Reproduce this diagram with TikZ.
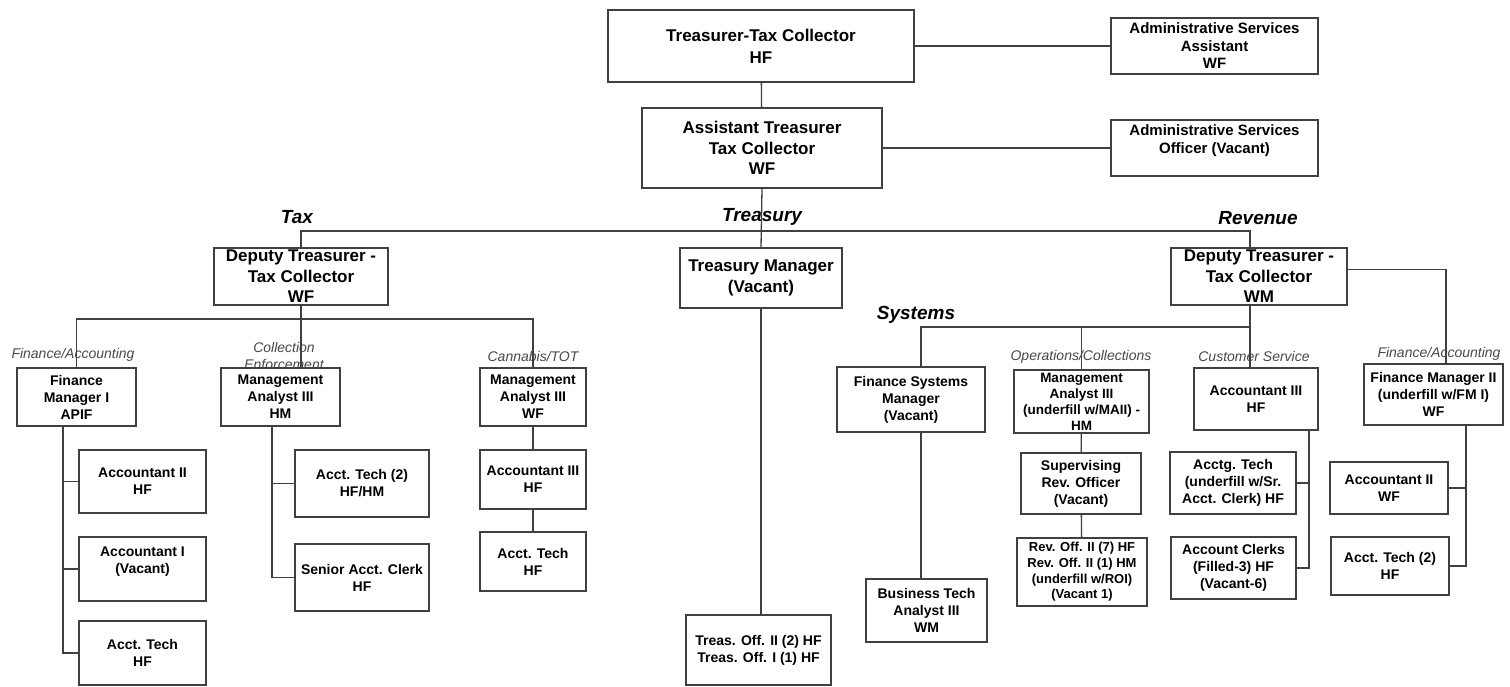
\documentclass[tikz,border=0pt]{standalone}
\usepackage{fontspec}
\setmainfont{Liberation Sans}
\tikzset{
	box/.style={draw=black!75, line width=1.3pt, fill=white, align=center, inner sep=0pt, font=\bfseries\fontsize{14}{17}\selectfont},
	bigbox/.style={box, font=\bfseries\fontsize{17}{20.5}\selectfont},
	adminbox/.style={box, font=\bfseries\fontsize{15}{17.5}\selectfont},
	dept/.style={font=\bfseries\itshape\fontsize{19}{22}\selectfont},
	unit/.style={text=black!72, font=\itshape\fontsize{14}{16.5}\selectfont},
	link/.style={draw=black!75, line width=1.3pt},
}
\begin{document}
\begin{tikzpicture}[x=1pt,y=-1pt]
	\useasboundingbox (0,0) rectangle (1510,686);

	% top
	\node[bigbox, minimum width=306pt, minimum height=72pt, font=\bfseries\fontsize{17}{22}\selectfont] (ttc) at (761,46) {Treasurer-Tax Collector\\HF};
	\node[adminbox, minimum width=207pt, minimum height=56pt] (asa) at (1214.5,46) {Administrative Services\\Assistant\\WF};
	\node[bigbox, minimum width=240pt, minimum height=80pt] (atc) at (762,148) {Assistant Treasurer\\Tax Collector\\WF};
	\node[adminbox, minimum width=207pt, minimum height=56pt] (aso) at (1214.5,148) {Administrative Services\\Officer (Vacant)\\~};

	\node[dept] at (297,217) {Tax};
	\node[dept] at (762,217) {Treasury};
	\node[dept] at (1258,218) {Revenue};
	\node[dept] at (916,315) {Systems};

	\node[bigbox, minimum width=174pt, minimum height=57pt] (dtax) at (301,276.5) {Deputy Treasurer -\\Tax Collector\\WF};
	\node[bigbox, minimum width=162pt, minimum height=60pt] (tman) at (761,278) {Treasury Manager\\(Vacant)};
	\node[bigbox, minimum width=176pt, minimum height=57pt] (drev) at (1259,276.5) {Deputy Treasurer -\\Tax Collector\\WM};

	% tax
	\node[unit] at (73,355) {Finance/Accounting};
	\node[unit, align=center] at (284,356) {Collection\\Enforcement};
	\node[unit] at (533,356) {Cannabis/TOT};

	\node[box, minimum width=119pt, minimum height=58pt] (fm1) at (76.5,397) {Finance\\Manager I\\APIF};
	\node[box, minimum width=119pt, minimum height=58pt] (mahm) at (280.5,397) {Management\\Analyst III\\HM};
	\node[box, minimum width=106pt, minimum height=58pt] (mawf) at (533,397) {Management\\Analyst III\\WF};

	\node[box, minimum width=127pt, minimum height=63pt] (acc2t) at (142.5,481.5) {Accountant II\\HF};
	\node[box, minimum width=127pt, minimum height=64pt] (acc1t) at (142.5,569) {Accountant I\\(Vacant)\\~};
	\node[box, minimum width=127pt, minimum height=64pt] (techt) at (142.5,653) {Acct. Tech\\HF};

	\node[box, minimum width=134pt, minimum height=67pt] (tech2t) at (362,483.5) {Acct. Tech (2)\\HF/HM};
	\node[box, minimum width=134pt, minimum height=67pt] (sclerk) at (362,577.5) {Senior Acct. Clerk\\HF};

	\node[box, minimum width=106pt, minimum height=59pt] (acc3t) at (533,479.5) {Accountant III\\HF};
	\node[box, minimum width=106pt, minimum height=59pt] (techc) at (533,561.5) {Acct. Tech\\HF};

	% treasury
	\node[box, minimum width=145pt, minimum height=70pt] (toff) at (758.5,650) {Treas. Off. II (2) HF\\Treas. Off. I (1) HF};

	% revenue
	\node[unit] at (1081,357) {Operations/Collections};
	\node[unit] at (1254,356) {Customer Service};
	\node[unit] at (1439,354) {Finance/Accounting};

	\node[box, minimum width=148pt, minimum height=65pt] (fsm) at (911,399.5) {Finance Systems\\Manager\\(Vacant)};
	\node[box, minimum width=135pt, minimum height=63pt, font=\bfseries\fontsize{13.5}{16}\selectfont] (mauf) at (1081.5,401.5) {Management\\Analyst III\\(underfill w/MAII) -\\HM};
	\node[box, minimum width=124pt, minimum height=62pt] (acc3r) at (1256,399) {Accountant III\\HF};
	\node[box, minimum width=139pt, minimum height=61pt] (fm2) at (1433.5,394.5) {Finance Manager II\\(underfill w/FM I)\\WF};

	\node[box, minimum width=121pt, minimum height=63pt] (bta) at (926.5,610.5) {Business Tech\\Analyst III\\WM};
	\node[box, minimum width=120pt, minimum height=61pt] (sro) at (1081,483.5) {Supervising\\Rev. Officer\\(Vacant)};
	\node[box, minimum width=130pt, minimum height=68pt, font=\bfseries\fontsize{13}{15.7}\selectfont] (roff) at (1082,572) {Rev. Off. II (7) HF\\Rev. Off. II (1) HM\\(underfill w/ROI)\\(Vacant 1)};
	\node[box, minimum width=126pt, minimum height=62pt] (atech) at (1233,483) {Acctg. Tech\\(underfill w/Sr.\\Acct. Clerk) HF};
	\node[box, minimum width=125pt, minimum height=62pt] (aclerk) at (1233.5,568) {Account Clerks\\(Filled-3) HF\\(Vacant-6)};
	\node[box, minimum width=118pt, minimum height=52pt] (acc2r) at (1389,488) {Accountant II\\WF};
	\node[box, minimum width=118pt, minimum height=58pt] (tech2r) at (1390,566) {Acct. Tech (2)\\HF};

	% lines
	\coordinate (bus) at (762,231);
	\coordinate (taxbus) at (301,319);
	\coordinate (revbus) at (1250,327);
	\coordinate (fm1line) at ([xshift=-13.5pt]fm1.south);
	\coordinate (mahmline) at ([xshift=-8.5pt]mahm.south);
	\coordinate (a3line) at ([xshift=53pt]acc3r.south);
	\coordinate (fm2line) at ([xshift=32.5pt]fm2.south);
	\coordinate (fsmline) at ([xshift=10pt]fsm.south);

	\draw[link] (ttc) -- (atc);
	\draw[link] (ttc.east) -- (asa.west);
	\draw[link] (atc.east) -- (aso.west);
	\draw[link] (atc.south) -- (tman.north);
	\draw[link] (dtax.north) |- (bus) -| ([xshift=-9pt]drev.north);
	\draw[link] (tman.south) -- (tman.south |- toff.north);

	\draw[link] (dtax.south) -- (dtax.south |- mahm.north);
	\draw[link] (fm1.north) |- (taxbus) -| (mawf.north);
	\draw[link] (fm1line) |- (acc2t.west);
	\draw[link] (fm1line) |- (acc1t.west);
	\draw[link] (fm1line) |- (techt.west);
	\draw[link] (mahmline) |- (tech2t.west);
	\draw[link] (mahmline) |- (sclerk.west);
	\draw[link] (mawf) -- (acc3t);
	\draw[link] (acc3t) -- (techc);

	\draw[link] ([xshift=-9pt]drev.south) -- (revbus) -- (revbus |- acc3r.north);
	\draw[link] ([xshift=10pt]fsm.north) |- (revbus);
	\draw[link] (mauf.north) -- (mauf.north |- revbus);
	\draw[link] ([yshift=7pt]drev.east) -| ([xshift=12.5pt]fm2.north);
	\draw[link] (fsmline) -- (fsmline |- bta.north);
	\draw[link] (mauf) -- (sro);
	\draw[link] (sro) -- (roff);
	\draw[link] (a3line) |- (atech.east);
	\draw[link] (a3line) |- (aclerk.east);
	\draw[link] (fm2line) |- (acc2r.east);
	\draw[link] (fm2line) |- (tech2r.east);
\end{tikzpicture}
\end{document}
